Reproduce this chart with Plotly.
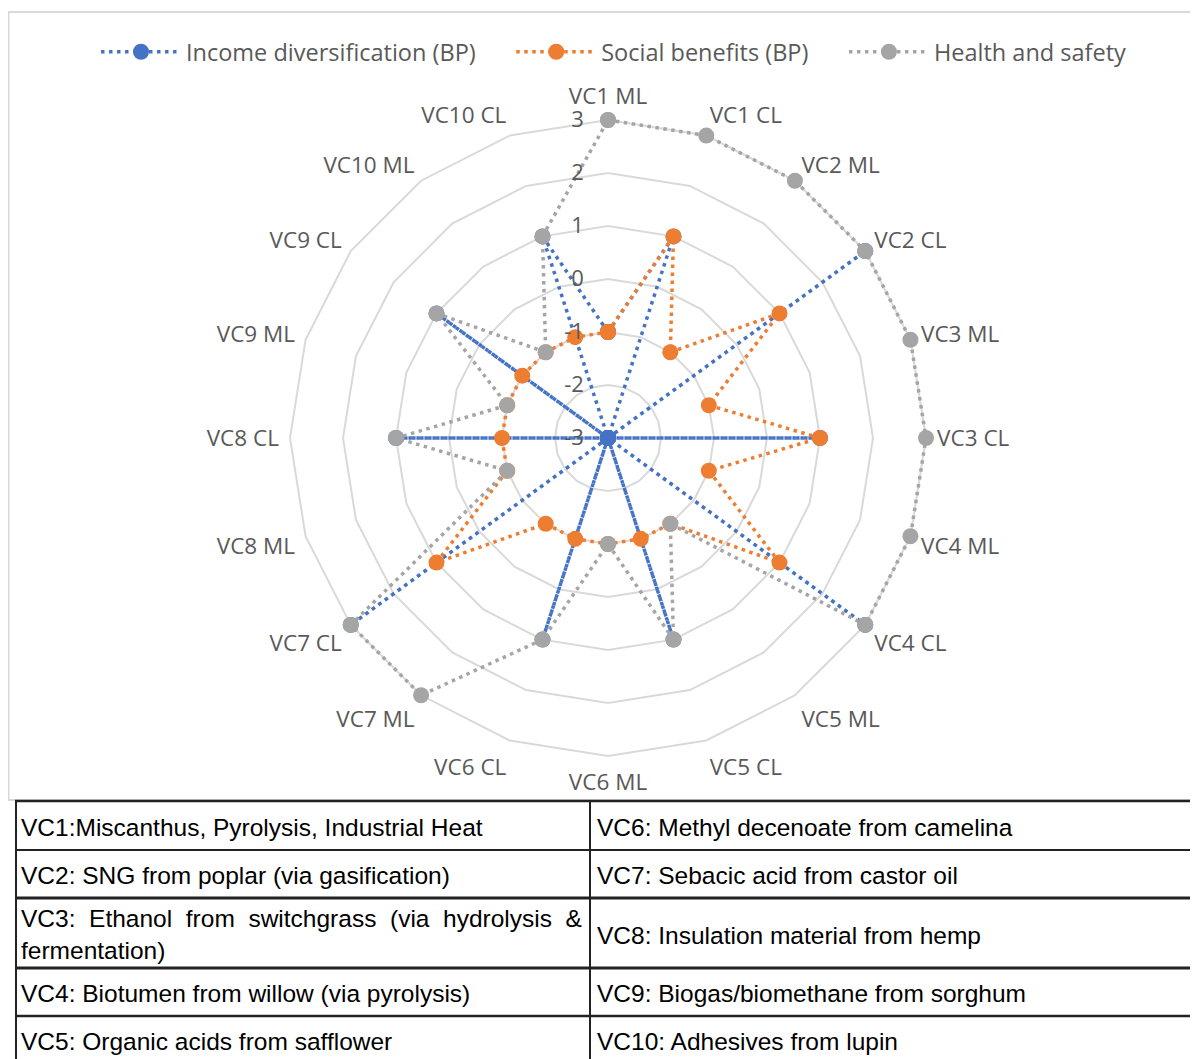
import plotly.graph_objects as go

# ---------------- data ----------------
categories = ["VC1 ML", "VC1 CL", "VC2 ML", "VC2 CL", "VC3 ML", "VC3 CL",
              "VC4 ML", "VC4 CL", "VC5 ML", "VC5 CL", "VC6 ML", "VC6 CL",
              "VC7 ML", "VC7 CL", "VC8 ML", "VC8 CL", "VC9 ML", "VC9 CL",
              "VC10 ML", "VC10 CL"]
income_div = [-1, 1, -3, 3, -3, 1, -3, 3, -3, 1, -3, 1, -3, 3, -3, 1, -3, 1, -3, 1]
social_ben = [-1, 1, -1, 1, -1, 1, -1, 1, -1, -1, -1, -1, -1, 1, -1, -1, -1, -1, -1, -1]
health_saf = [3, 3, 3, 3, 3, 3, 3, 3, -1, 1, -1, 1, 3, 3, -1, 1, -1, 1, -1, 1]
series_names = ["Income diversification (BP)", "Social benefits (BP)", "Health and safety"]
radial_ticks = [-3, -2, -1, 0, 1, 2, 3]
radial_ticktext = ["-3", "-2", "-1", "0", "1", "2", "3"]

table_left = ["VC1:Miscanthus, Pyrolysis, Industrial Heat",
              "VC2: SNG from poplar (via gasification)",
              "VC3: Ethanol from switchgrass (via hydrolysis & fermentation)",
              "VC4: Biotumen from willow (via pyrolysis)",
              "VC5: Organic acids from safflower"]
table_right = ["VC6: Methyl decenoate from camelina",
               "VC7: Sebacic acid from castor oil",
               "VC8: Insulation material from hemp",
               "VC9: Biogas/biomethane from sorghum",
               "VC10: Adhesives from lupin"]

# ---------------- style ----------------
OFF = 8                      # default page margin of the html body
W, H = 1198 - OFF, 1059 - OFF
colors = ["#4472C4", "#ED7D31", "#A5A5A5"]
label_col = "#595959"
grid_col = "#D9D9D9"
chart_font = "Open Sans"
table_font = "Liberation Sans"


def px(x):
    return (x - OFF) / W


def py(y):
    return 1 - (y - OFF) / H


cx, cy, R3 = 608, 438, 318   # centre and radius of the r=3 ring (page pixels)
r_max = 3.2
R = R3 * (r_max + 3) / 6

fig = go.Figure()
for name, vals, col in zip(series_names, [income_div, social_ben, health_saf], colors):
    fig.add_trace(go.Scatterpolar(
        r=vals + vals[:1],
        theta=categories + categories[:1],
        mode="lines+markers",
        name=name + ("\u00a0" * 5 if name != series_names[-1] else ""),
        line=dict(color=col, width=3.5, dash="3.5px,4.5px"),
        marker=dict(size=16, color=col, symbol="circle", line=dict(width=0)),
        cliponaxis=True,
    ))

shapes = []
# chart border
shapes.append(dict(type="rect", xref="paper", yref="paper",
                   x0=px(8.5), x1=px(1197), y0=py(800), y1=py(12),
                   line=dict(color="#D9D9D9", width=2), layer="below"))
# table lines
row_lines = [(801, 2.5), (850, 2), (898, 3), (968, 3), (1016, 2.5)]
for y, w in row_lines:
    shapes.append(dict(type="line", xref="paper", yref="paper",
                       x0=px(15), x1=px(1198), y0=py(y), y1=py(y),
                       line=dict(color="#222222", width=w)))
for x in [16, 590]:
    shapes.append(dict(type="line", xref="paper", yref="paper",
                       x0=px(x), x1=px(x), y0=py(801), y1=py(1070),
                       line=dict(color="#222222", width=2)))

annotations = []
tf = dict(family=table_font, size=24.5, color="#000000")
row_y = [827, 875, None, 993, 1041]
for i, t in enumerate(table_left):
    if row_y[i] is None:
        continue
    annotations.append(dict(text=t, x=px(19), y=py(row_y[i]), xref="paper", yref="paper",
                            xanchor="left", yanchor="middle", showarrow=False, font=tf))
# justified VC3 cell (two lines)
words = table_left[2].split(" ")
line1 = "\u00a0\u00a0".join(words[:7])
line2 = " ".join(words[7:])
annotations.append(dict(text=line1, x=px(19), y=py(918), xref="paper", yref="paper",
                        xanchor="left", yanchor="middle", showarrow=False, font=tf))
annotations.append(dict(text=line2, x=px(19), y=py(950), xref="paper", yref="paper",
                        xanchor="left", yanchor="middle", showarrow=False, font=tf))
row_y_r = [827, 875, 935, 993, 1041]
for i, t in enumerate(table_right):
    annotations.append(dict(text=t, x=px(595), y=py(row_y_r[i]), xref="paper", yref="paper",
                            xanchor="left", yanchor="middle", showarrow=False, font=tf))

fig.update_layout(
    width=W, height=H,
    margin=dict(l=0, r=0, t=0, b=0),
    paper_bgcolor="white",
    font=dict(family=chart_font, size=22, color=label_col),
    showlegend=True,
    legend=dict(orientation="h", x=px(96), xanchor="left", y=py(52), yanchor="middle",
                font=dict(family=chart_font, size=23.5, color=label_col),
                itemwidth=80, bgcolor="rgba(0,0,0,0)"),
    polar=dict(
        domain=dict(x=[px(cx - R), px(cx + R)], y=[py(cy + R), py(cy - R)]),
        bgcolor="white",
        gridshape="linear",
        angularaxis=dict(type="category", categoryarray=categories, rotation=90,
                         direction="clockwise", showgrid=False, showline=False,
                         ticks="",
                         tickfont=dict(family=chart_font, size=22.5, color=label_col)),
        radialaxis=dict(range=[-3, r_max], tickmode="array", tickvals=radial_ticks,
                        ticktext=radial_ticktext, showline=False,
                        showgrid=True, gridcolor=grid_col, gridwidth=2,
                        angle=90, tickangle=90, side="counterclockwise",
                        ticks="outside", ticklen=16, tickcolor="rgba(0,0,0,0)",
                        tickfont=dict(family=chart_font, size=22, color=label_col)),
    ),
    shapes=shapes,
    annotations=annotations,
)

fig.write_html("out.html")
